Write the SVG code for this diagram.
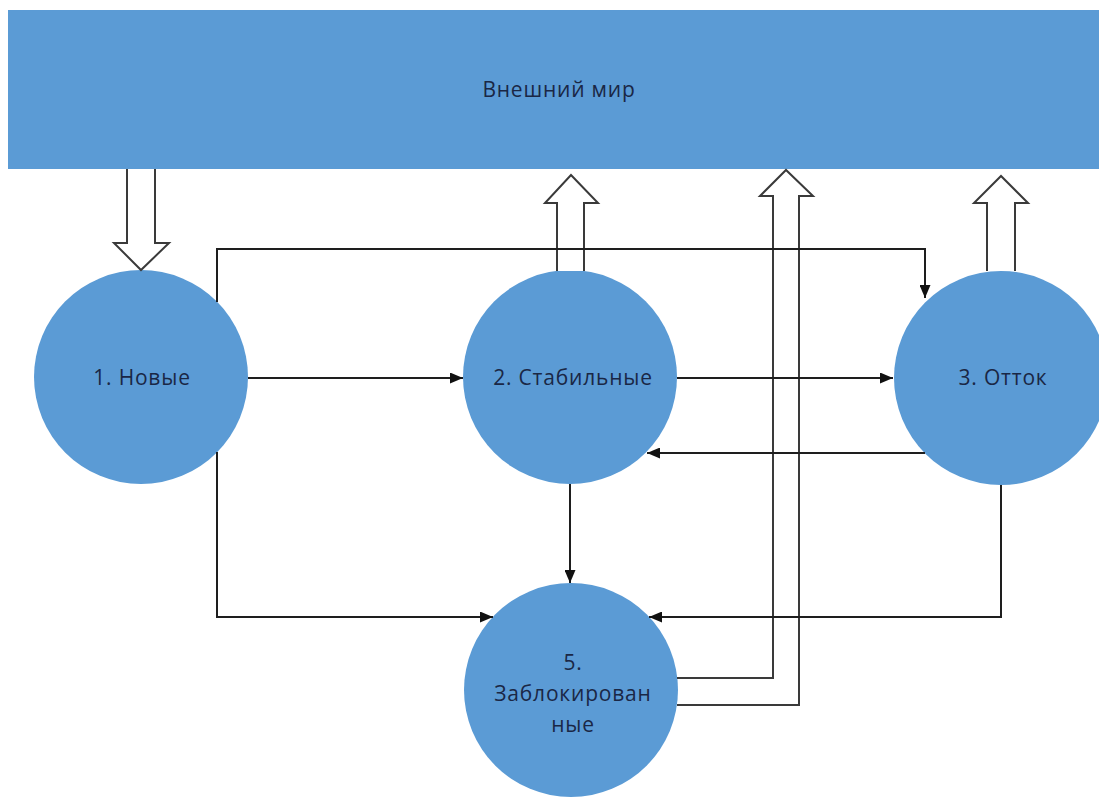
<svg xmlns="http://www.w3.org/2000/svg" width="1099" height="798" viewBox="0 0 1099 798">
<defs>
<marker id="ah" markerUnits="userSpaceOnUse" markerWidth="13" markerHeight="11" refX="13" refY="5.5" orient="auto">
<path d="M0,0 L13,5.5 L0,11 z" fill="#111"/>
</marker>
<style>
.blue{fill:#5b9bd5}
.lbl{font-family:"Open Sans","Noto Sans","DejaVu Sans",sans-serif;font-size:21px;letter-spacing:0.8px;fill:#1a2745;text-anchor:middle}
.ln{fill:none;stroke:#1e1e1e;stroke-width:2}
.ha{fill:#fff;stroke:#3a3a3a;stroke-width:2;stroke-linejoin:miter}
</style>
</defs>
<rect width="1099" height="798" fill="#fff"/>
<g id="world">
<rect class="blue" x="8" y="10" width="1091" height="159"/>
<text class="lbl" x="559" y="97">Внешний мир</text>
</g>
<g id="n1">
<circle class="blue" cx="141" cy="377" r="107"/>
<text class="lbl" x="142" y="385">1. Новые</text>
</g>
<g id="n2">
<circle class="blue" cx="570" cy="377" r="107"/>
<text class="lbl" x="573" y="385">2. Стабильные</text>
</g>
<g id="n3">
<circle class="blue" cx="1001" cy="378" r="107"/>
<text class="lbl" x="1003" y="385">3. Отток</text>
</g>
<g id="n5">
<circle class="blue" cx="571" cy="690" r="107"/>
<text class="lbl" x="573" y="670">5.</text>
<text class="lbl" x="573" y="701">Заблокирован</text>
<text class="lbl" x="573" y="732">ные</text>
</g>
<g id="connectors">
<path class="ha" d="M127,169 V243 H114 L141,270 L169,243 H155 V169"/>
<path class="ha" d="M557,271 V203 H545 L571,175 L598,203 H584 V271"/>
<path class="ha" d="M987,271 V203 H974 L1001,176 L1028,203 H1015 V271"/>
<path class="ha" style="fill:none" d="M677,678 H773 V196 H760 L786,170 L813,196 H799 V705 H677"/>
<path class="ln" d="M217,302 V249 H925 V298" marker-end="url(#ah)"/>
<path class="ln" d="M248,378 H463" marker-end="url(#ah)"/>
<path class="ln" d="M677,378 H893" marker-end="url(#ah)"/>
<path class="ln" d="M925,453 H647" marker-end="url(#ah)"/>
<path class="ln" d="M1001,485 V617 H649" marker-end="url(#ah)"/>
<path class="ln" d="M570,484 V583" marker-end="url(#ah)"/>
<path class="ln" d="M217,452 V617 H493" marker-end="url(#ah)"/>
</g>
</svg>
